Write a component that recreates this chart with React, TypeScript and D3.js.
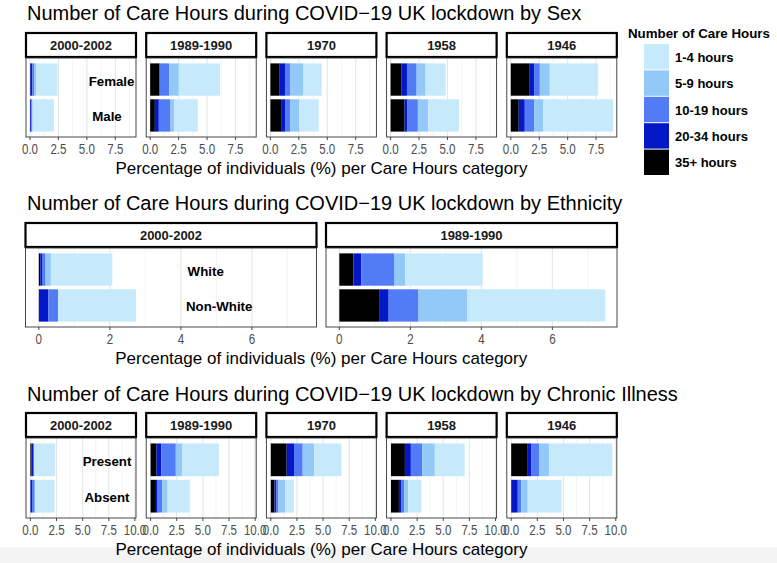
import React from "react";
import * as d3 from "d3";

const FONT = "'Liberation Sans', Arial, Helvetica, sans-serif";

// Care hour categories (legend order) and colours
const careCats = ["1-4 hours", "5-9 hours", "10-19 hours", "20-34 hours", "35+ hours"];
const catColors = ["#c6eafb", "#93c9f8", "#527bf6", "#0418c8", "#000000"];
// stacking order, left to right
const stackOrder = ["35+ hours", "20-34 hours", "10-19 hours", "5-9 hours", "1-4 hours"];

// ---- Sex ----
const sexCohorts = ["2000-2002", "1989-1990", "1970", "1958", "1946"];
const sexGroups = ["Female", "Male"];
// values per cohort: [35+, 20-34, 10-19, 5-9, 1-4]
const sexFemale = [
  [0.03, 0.18, 0.15, 0.17, 1.88],
  [0.82, 0.03, 0.82, 0.85, 3.61],
  [0.82, 0.47, 0.47, 1.11, 1.64],
  [0.97, 0.47, 0.85, 0.79, 1.76],
  [1.61, 0.44, 0.5, 0.88, 4.25],
];
const sexMale = [
  [0.02, 0.1, 0.08, 0.05, 1.85],
  [0.41, 0.35, 1.03, 0.35, 2.05],
  [0.94, 0.35, 0.47, 0.79, 1.7],
  [1.23, 0.26, 0.91, 0.91, 2.7],
  [0.7, 0.53, 0.82, 0.79, 6.16],
];
const sexLabelX = [7.17, 6.77];
const sexTicks = [0, 2.5, 5, 7.5];
const sexMinor = [1.25, 3.75, 6.25, 8.75];

// ---- Ethnicity ----
const ethCohorts = ["2000-2002", "1989-1990"];
const ethGroups = ["White", "Non-White"];
const ethWhite = [
  [0.04, 0.05, 0.1, 0.15, 1.73],
  [0.4, 0.22, 0.92, 0.32, 2.18],
];
const ethNonWhite = [
  [0, 0.27, 0.27, 0, 2.2],
  [1.12, 0.27, 0.84, 1.38, 3.88],
];
const ethLabelX = [4.7, 5.08];
const ethTicks = [0, 2, 4, 6];
const ethMinor = [1, 3, 5, 7];

// ---- Chronic illness ----
const illCohorts = ["2000-2002", "1989-1990", "1970", "1958", "1946"];
const illGroups = ["Present", "Absent"];
const illPresent = [
  [0.08, 0.17, 0.1, 0.05, 1.97],
  [0.57, 0.44, 1.4, 0.63, 3.49],
  [1.52, 0.7, 0.83, 1.11, 2.6],
  [1.33, 0.57, 1.08, 1.21, 2.86],
  [1.52, 0.38, 0.79, 0.95, 6.03],
];
const illAbsent = [
  [0, 0.16, 0.25, 0.05, 1.85],
  [0.51, 0.16, 0.44, 0.51, 2.13],
  [0.35, 0.19, 0.19, 0.63, 0.86],
  [0.76, 0.25, 0.25, 0.38, 1.27],
  [0, 0.63, 0.32, 0.63, 3.24],
];
const illLabelX = [7.33, 7.33];
const illTicks = [0, 2.5, 5, 7.5, 10];
const illMinor = [1.25, 3.75, 6.25, 8.75];

const xTitle = "Percentage of individuals (%) per Care Hours category";

const color = d3.scaleOrdinal<string, string>().domain(careCats).range(catColors);

function FacetRow(props: any) {
  const {
    title, titleY, stripTop, stripH, panelTop, panelH, cohorts, groups,
    seriesA, seriesB, domain, ticks, minor, fmt, lefts, width, labelX,
  } = props;
  const panelBottom = panelTop + panelH;
  const y = d3
    .scaleBand<string>()
    .domain(groups)
    .range([panelTop, panelBottom])
    .paddingInner(0.1)
    .paddingOuter(0.15);
  const stack = d3.stack<any>().keys(stackOrder);
  const rowLeft = lefts[0];
  const rowRight = lefts[lefts.length - 1] + width;
  return (
    <g>
      <text x={27} y={titleY} fontSize={20} fill="#000">{title}</text>
      {cohorts.map((c: string, i: number) => {
        const left = lefts[i];
        const x = d3.scaleLinear().domain(domain).range([left, left + width]);
        const rows = groups.map((g: string, gi: number) => {
          const vals = gi === 0 ? seriesA[i] : seriesB[i];
          const o: any = { group: g };
          stackOrder.forEach((k, ki) => (o[k] = vals[ki]));
          return o;
        });
        const stacked = stack(rows);
        return (
          <g key={c}>
            {/* strip */}
            <rect x={left} y={stripTop} width={width} height={stripH} fill="#fff" stroke="#000" strokeWidth={2.2} />
            <text x={left + width / 2} y={stripTop + stripH / 2} textAnchor="middle" dominantBaseline="central" fontSize={13} fontWeight="bold" fill="#1a1a1a">{c}</text>
            {/* panel */}
            <rect x={left} y={panelTop} width={width} height={panelH} fill="#fff" />
            {minor.map((t: number) => (
              <line key={"m" + t} x1={x(t)} x2={x(t)} y1={panelTop} y2={panelBottom} stroke="#ececec" strokeWidth={0.6} />
            ))}
            {ticks.map((t: number) => (
              <line key={"g" + t} x1={x(t)} x2={x(t)} y1={panelTop} y2={panelBottom} stroke="#e6e6e6" strokeWidth={1.1} />
            ))}
            {stacked.map((s: any) =>
              s.map((d: any) => (
                <rect
                  key={s.key + d.data.group}
                  x={x(d[0])}
                  width={Math.max(0, x(d[1]) - x(d[0]))}
                  y={y(d.data.group)}
                  height={y.bandwidth()}
                  fill={color(s.key)}
                />
              ))
            )}
            {i === 0 &&
              groups.map((g: string, gi: number) => (
                <text key={"l" + g} x={x(labelX[gi])} y={(y(g) as number) + y.bandwidth() / 2 + 1.5} textAnchor="middle" dominantBaseline="central" fontSize={13.3} fontWeight="bold" fill="#000">{g}</text>
              ))}
            <rect x={left} y={panelTop} width={width} height={panelH} fill="none" stroke="#333" strokeWidth={0.9} />
            {ticks.map((t: number) => (
              <g key={"t" + t}>
                <line x1={x(t)} x2={x(t)} y1={panelBottom} y2={panelBottom + 3} stroke="#333" strokeWidth={0.9} />
                <text transform={`translate(${x(t)},${panelBottom + 11.5}) scale(0.77,1)`} textAnchor="middle" dominantBaseline="central" fontSize={15} fill="#4d4d4d">{fmt(t)}</text>
              </g>
            ))}
          </g>
        );
      })}
      <text x={(rowLeft + rowRight) / 2} y={panelBottom + 31} textAnchor="middle" dominantBaseline="central" fontSize={17} fill="#000">{xTitle}</text>
    </g>
  );
}

function Legend() {
  const keyH = 26.4;
  return (
    <g>
      <text x={628} y={33} dominantBaseline="central" fontSize={13.3} fontWeight="bold" fill="#000">Number of Care Hours</text>
      {careCats.map((c, i) => (
        <g key={c}>
          <rect x={644} y={44 + i * keyH} width={25} height={keyH - 1} fill={color(c)} />
          <text x={675} y={44 + i * keyH + keyH / 2} dominantBaseline="central" fontSize={13} fontWeight="bold" fill="#000">{c}</text>
        </g>
      ))}
    </g>
  );
}

export default function App() {
  const five = d3.range(5).map((i) => 26 + i * 120.2);
  const two = [25.5, 326];
  const f1 = d3.format(".1f");
  const f0 = d3.format("d");
  return (
    <svg width={777} height={563} style={{ position: "absolute", left: 0, top: 0 }} fontFamily={FONT}>
      <rect x={0} y={0} width={777} height={563} fill="#fff" />
      <rect x={0} y={547} width={777} height={16} fill="#f4f4f4" />
      <FacetRow
        title="Number of Care Hours during COVID−19 UK lockdown by Sex"
        titleY={20} stripTop={33} stripH={24} panelTop={58} panelH={79}
        cohorts={sexCohorts} groups={sexGroups} seriesA={sexFemale} seriesB={sexMale}
        domain={[-0.35, 9.32]} ticks={sexTicks} minor={sexMinor} fmt={f1}
        lefts={five} width={110} labelX={sexLabelX}
      />
      <FacetRow
        title="Number of Care Hours during COVID−19 UK lockdown by Ethnicity"
        titleY={210} stripTop={223} stripH={24} panelTop={248} panelH={79}
        cohorts={ethCohorts} groups={ethGroups} seriesA={ethWhite} seriesB={ethNonWhite}
        domain={[-0.375, 7.82]} ticks={ethTicks} minor={ethMinor} fmt={f0}
        lefts={two} width={291} labelX={ethLabelX}
      />
      <FacetRow
        title="Number of Care Hours during COVID−19 UK lockdown by Chronic Illness"
        titleY={400.5} stripTop={413} stripH={24} panelTop={438} panelH={80}
        cohorts={illCohorts} groups={illGroups} seriesA={illPresent} seriesB={illAbsent}
        domain={[-0.42, 10.1]} ticks={illTicks} minor={illMinor} fmt={f1}
        lefts={five} width={110} labelX={illLabelX}
      />
      <Legend />
    </svg>
  );
}
